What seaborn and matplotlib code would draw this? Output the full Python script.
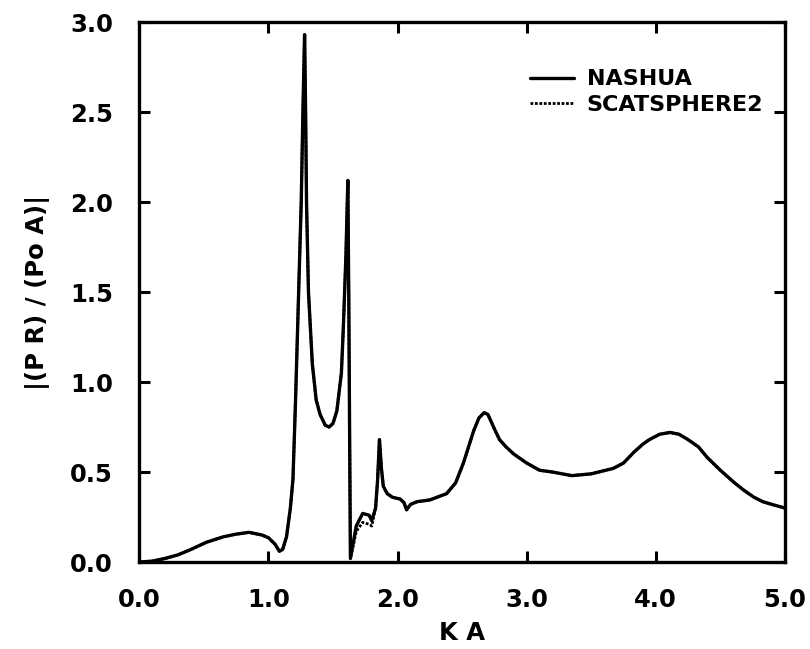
import pandas as pd
import seaborn as sns
import matplotlib.pyplot as plt

# values
ka = [0.0, 0.1, 0.2, 0.3, 0.4, 0.52, 0.65, 0.75, 0.85, 0.95, 1.0, 1.05, 1.085,
      1.11, 1.14, 1.17, 1.19, 1.21, 1.23, 1.254, 1.267, 1.28, 1.288, 1.295,
      1.31, 1.34, 1.37, 1.40, 1.44, 1.47, 1.50, 1.53, 1.565, 1.58, 1.60,
      1.615, 1.622, 1.628, 1.635, 1.66, 1.68, 1.73, 1.78, 1.80, 1.83, 1.845,
      1.86, 1.875, 1.89, 1.92, 1.96, 2.02, 2.05, 2.07, 2.10, 2.15, 2.25,
      2.38, 2.45, 2.51, 2.55, 2.59, 2.63, 2.67, 2.70, 2.75, 2.79, 2.84, 2.90,
      3.0, 3.1, 3.2, 3.35, 3.5, 3.67, 3.75, 3.83, 3.9, 3.95, 4.03, 4.11,
      4.18, 4.25, 4.33, 4.40, 4.5, 4.61, 4.68, 4.76, 4.83, 4.90, 5.0]
nashua = [0.0, 0.005, 0.02, 0.04, 0.07, 0.11, 0.14, 0.155, 0.165, 0.15, 0.135,
          0.10, 0.06, 0.07, 0.14, 0.30, 0.46, 0.90, 1.40, 2.0, 2.5, 2.93, 2.5,
          2.0, 1.5, 1.1, 0.90, 0.82, 0.76, 0.75, 0.77, 0.84, 1.05, 1.3, 1.7,
          2.12, 1.5, 0.8, 0.02, 0.12, 0.20, 0.27, 0.26, 0.23, 0.30, 0.45,
          0.68, 0.52, 0.42, 0.38, 0.36, 0.35, 0.33, 0.29, 0.32, 0.335, 0.345,
          0.38, 0.44, 0.55, 0.64, 0.73, 0.80, 0.83, 0.82, 0.74, 0.68, 0.64,
          0.60, 0.55, 0.51, 0.50, 0.48, 0.49, 0.52, 0.55, 0.61, 0.655, 0.68,
          0.71, 0.72, 0.71, 0.68, 0.64, 0.58, 0.51, 0.44, 0.40, 0.36, 0.335,
          0.32, 0.30]
# SCATSPHERE2 follows NASHUA except just after the second resonance
scats = list(nashua)
for x, v in [(1.66, 0.10), (1.68, 0.17), (1.73, 0.22), (1.78, 0.21), (1.80, 0.20)]:
    scats[ka.index(x)] = v

df = pd.DataFrame({'ka': ka * 2, 'p': nashua + scats,
                   'code': ['NASHUA'] * len(ka) + ['SCATSPHERE2'] * len(ka)})

sns.set_style('ticks')
plt.rcParams['font.family'] = ['DejaVu Sans']
plt.rcParams['font.weight'] = 'bold'
plt.rcParams['text.color'] = 'black'
plt.rcParams['axes.labelcolor'] = 'black'
plt.rcParams['xtick.color'] = 'black'
plt.rcParams['ytick.color'] = 'black'
plt.rcParams['axes.edgecolor'] = 'black'
plt.rcParams['lines.solid_joinstyle'] = 'round'

fig, ax = plt.subplots(figsize=(8.1, 6.49), dpi=100)
fig.subplots_adjust(left=0.172, right=0.969, bottom=0.134, top=0.966)

sns.lineplot(data=df[df.code == 'NASHUA'], x='ka', y='p', color='black',
             linewidth=2.4, label='NASHUA', ax=ax, sort=False)
sns.lineplot(data=df[df.code == 'SCATSPHERE2'], x='ka', y='p', color='black',
             linewidth=2.0, linestyle=(0, (1, 0.6)), label='SCATSPHERE2',
             ax=ax, sort=False)

ax.set_xlim(0, 5)
ax.set_ylim(0, 3)
ax.set_xticks([0, 1, 2, 3, 4, 5])
ax.set_xticklabels(['0.0', '1.0', '2.0', '3.0', '4.0', '5.0'])
ax.set_yticks([0, 0.5, 1, 1.5, 2, 2.5, 3])
ax.set_yticklabels(['0.0', '0.5', '1.0', '1.5', '2.0', '2.5', '3.0'])
ax.tick_params(direction='in', length=8, width=2.2, top=True, right=True,
               labelsize=17.5, pad=19)
for s in ax.spines.values():
    s.set_linewidth(2.4)
    s.set_visible(True)

ax.set_xlabel('K A', fontsize=17.5, fontweight='bold', labelpad=6)
ax.set_ylabel('|(P R) / (Po A)|', fontsize=17.5, fontweight='bold', labelpad=14)

ax.legend(loc='center left', frameon=False, bbox_to_anchor=(0.605, 0.87),
          borderaxespad=0, borderpad=0, handlelength=2.0, handletextpad=0.55,
          labelspacing=0.25, prop={'weight': 'bold', 'size': 16})

fig.savefig('out.png', dpi=100)
